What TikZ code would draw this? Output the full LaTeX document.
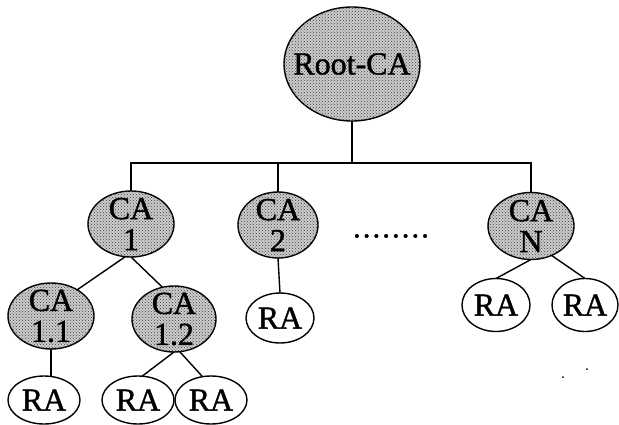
\documentclass[tikz,border=0pt]{standalone}
\usepackage{fontspec}
\setmainfont{Liberation Serif}
\newfontfamily\diagfont{Liberation Serif}[FakeBold=1.2]
\usetikzlibrary{shapes.geometric,patterns}

\tikzset{
  caname/.style={font=\diagfont\fontsize{32}{31}\selectfont, align=center, inner sep=0pt},
  cabox/.style={ellipse, draw, line width=1.4pt, inner sep=0pt, outer sep=0pt,
    fill=black!20, postaction={pattern=crosshatch dots, pattern color=black!75}},
  rabox/.style={ellipse, draw, line width=1.4pt, inner sep=0pt, outer sep=0pt,
    fill=white, font=\diagfont\fontsize{32}{31}\selectfont},
  link/.style={line width=1.4pt}
}

\begin{document}
\begin{tikzpicture}[x=1pt, y=-1pt]
  \useasboundingbox (0,0) rectangle (619,424);

  % certificate authorities
  \node[cabox, minimum width=136pt, minimum height=114pt,
        label={[caname]center:Root-CA}] (root) at (352,64) {};
  \node[cabox, minimum width=86pt, minimum height=66pt,
        label={[caname]center:CA\\1}] (ca1) at (131,224) {};
  \node[cabox, minimum width=80pt, minimum height=66pt,
        label={[caname]center:CA\\2}] (ca2) at (278,225) {};
  \node[cabox, minimum width=86pt, minimum height=67pt,
        label={[caname]center:CA\\N}] (can) at (531,226) {};
  \node[cabox, minimum width=86pt, minimum height=66pt,
        label={[caname]center:CA\\1.1}] (ca11) at (51,316) {};
  \node[cabox, minimum width=84pt, minimum height=66pt,
        label={[caname]center:CA\\1.2}] (ca12) at (174,319) {};

  % registration authorities
  \node[rabox, minimum width=68pt, minimum height=50pt] (raB) at (280,318) {RA};
  \node[rabox, minimum width=68pt, minimum height=53pt] (ranl) at (496,305) {RA};
  \node[rabox, minimum width=66pt, minimum height=53pt] (ranr) at (585,305) {RA};
  \node[rabox, minimum width=72pt, minimum height=48pt] (ra11) at (44,400) {RA};
  \node[rabox, minimum width=72pt, minimum height=48pt] (ra12a) at (138,400) {RA};
  \node[rabox, minimum width=72pt, minimum height=48pt] (ra12b) at (211,400) {RA};

  % elided CAs
  \node[inner sep=0pt, font=\diagfont\fontsize{31}{31}\selectfont] (more) at (391,236)
    {.\kern2pt.\kern2pt.\kern2pt.\kern2pt.\kern2pt.\kern2pt.\kern2pt.};

  % bus from the root to the first level
  \coordinate (bus) at (352,163);
  \draw[link] (root.south) -- (bus);
  \draw[link] (ca1.north) -- (ca1.north |- bus) -- (can.north |- bus) -- (can.north);
  \draw[link] (ca2.north) -- (ca2.north |- bus);

  % lower levels
  \draw[link] (ca1.260) -- (ca11.45);
  \draw[link] (ca1.south) -- (ca12.110);
  \draw[link] (ca11.south) -- (ca11.south |- ra11.north);
  \draw[link] (ca12.south) -- (ra12a.80);
  \draw[link] (ca12.280) -- (ra12b.110);
  \draw[link] (ca2.south) -- (raB.north);
  \draw[link] (can.south) -- (ranl.north);
  \draw[link] (can.-55) -- (ranr.north);

  % specks
  \fill (563,377) circle (1pt);
  \fill (587,369) circle (1pt);
\end{tikzpicture}
\end{document}
